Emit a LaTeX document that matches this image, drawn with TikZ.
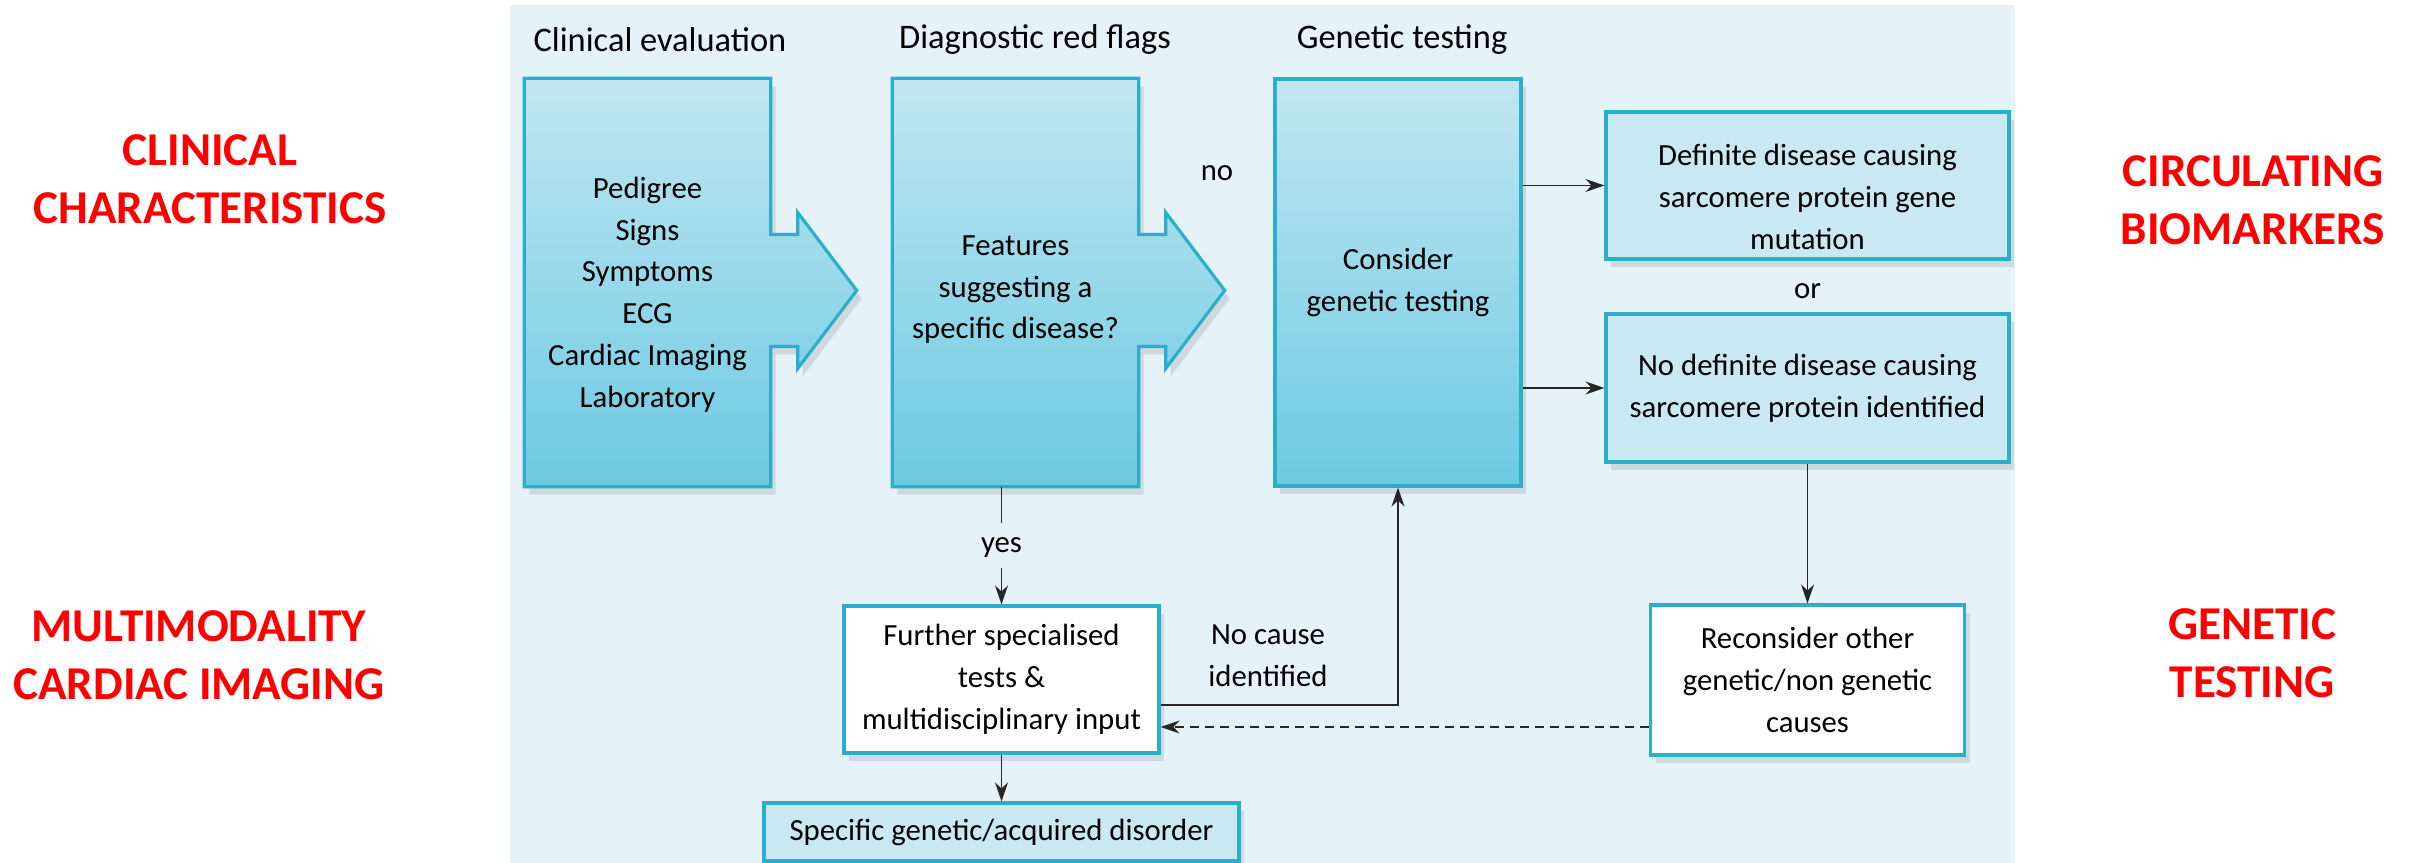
\documentclass[tikz,border=0pt]{standalone}
\usepackage{fontspec}
\setmainfont{Carlito}
\usepackage{tikz}
\usetikzlibrary{positioning,calc,arrows.meta,shadows,backgrounds}

\definecolor{panelblue}{HTML}{E5F3F9}
\definecolor{boxtop}{HTML}{C2E6F1}
\definecolor{boxbot}{HTML}{6CCAE2}
\definecolor{boxline}{HTML}{2AAFCA}
\definecolor{lightbox}{HTML}{C9E8F2}
\definecolor{labelred}{HTML}{FF0000}

\newcommand{\diagfont}{\fontsize{8.75}{11.9}\selectfont}
\newcommand{\hdfont}{\fontsize{9.8}{11}\selectfont}
\newcommand{\redfont}{\fontsize{13.4}{16.6}\selectfont\bfseries}
% invisible strut that pushes a block of lines down in its box
\newcommand{\lowerby}[1]{\rule{0pt}{#1}}

% tall box with an arrow on its right side, drawn round a named node
\newcommand{\arrowbox}[1]{%
  \coordinate (#1arr) at ($(#1.east)+(0,-0.08)$);
  \path[bigbox] (#1.north west) -- (#1.north east) -- (#1.north east |- {$(#1arr)+(0,0.56)$})
    -- ++(0.27,0) -- ++(0,0.22) -- ($(#1arr)+(0.86,0)$) -- ($(#1arr)+(0.27,-0.78)$)
    -- ++(0,0.22) -- ($(#1arr)+(0,-0.56)$) -- (#1.south east) -- (#1.south west) -- cycle;}

\begin{document}
\begin{tikzpicture}[
    >={Stealth[length=1.9mm,width=1.3mm]},
    every node/.style={inner sep=0pt},
    boxshadow/.style={drop shadow={shadow xshift=0.5mm,shadow yshift=-0.8mm,opacity=0.22}},
    bigbox/.style={draw=boxline, line width=0.9pt, top color=boxtop, bottom color=boxbot, boxshadow},
    textbox/.style={minimum width=2.45cm, minimum height=4.07cm, align=center, font=\diagfont},
    flatbox/.style={draw=boxline, line width=0.9pt, fill=lightbox, boxshadow, align=center, font=\diagfont},
    whitebox/.style={draw=boxline, line width=0.9pt, fill=white, boxshadow, align=center, font=\diagfont},
    head/.style={font=\hdfont},
    tag/.style={font=\diagfont, align=center},
    redlabel/.style={font=\redfont, text=labelred, align=center},
    link/.style={line width=0.5pt, black!85}
  ]
  \useasboundingbox (0,0) rectangle (24.10,8.63);

  % Column headers
  \node[head] (hclin) at (6.60,8.23) {Clinical evaluation};
  \node[head] (hflags) at (10.35,8.23) {Diagnostic red flags};
  \node[head] (hgen) at (14.02,8.23) {Genetic testing};

  % Tall boxes
  \node[textbox] (clin) at (6.475,5.805) {\lowerby{0.455cm}Pedigree\\Signs\\Symptoms\\ECG\\Cardiac Imaging\\Laboratory};
  \node[textbox] (flags) at (10.155,5.805) {\lowerby{0.34cm}Features\\suggesting a\\specific disease?};
  \node[bigbox, textbox, minimum width=2.46cm] (gentest) at (13.98,5.805) {Consider\\genetic testing};

  % Test results
  \node[flatbox, minimum width=4.03cm, minimum height=1.47cm] (definite) at (18.075,6.775) {\lowerby{0.437cm}Definite disease causing\\sarcomere protein gene\\mutation};
  \node[tag] (or) at (18.075,5.72) {or};
  \node[flatbox, minimum width=4.03cm, minimum height=1.48cm] (nodef) at (18.075,4.75) {No definite disease causing\\sarcomere protein identified};

  % Lower boxes
  \node[whitebox, minimum width=3.15cm, minimum height=1.47cm] (further) at (10.015,1.835) {Further specialised\\tests \&\\multidisciplinary input};
  \node[whitebox, minimum width=3.14cm, minimum height=1.50cm] (reconsider) at (18.075,1.83) {Reconsider other\\genetic/non genetic\\causes};
  \node[flatbox, minimum width=4.75cm, minimum height=0.58cm] (specific) at (10.015,0.31) {Specific genetic/acquired disorder};

  % Labels on the flow
  \node[tag] (no) at (12.17,6.90) {no};
  \node[tag] (yes) at (10.015,3.15) {yes};
  \node[tag] (nocause) at (12.68,2.07) {No cause\\identified};

  % Connectors
  \draw[link] (flags.south -| yes) -- ([yshift=0.25cm]yes.center);
  \draw[link,->] ([yshift=-0.2cm]yes.center) -- (further.north);
  \draw[link,->] (gentest.east |- definite) -- (definite.west);
  \draw[link,->] (gentest.east |- nodef) -- (nodef.west);
  \draw[link,->] (nodef.south) -- (reconsider.north);
  \draw[link,->] ([yshift=-0.255cm]further.east) -| (gentest.south);
  \draw[link,->,dash pattern=on 0.9mm off 0.6mm] ([yshift=-0.47cm]reconsider.west) -- ([yshift=-0.47cm]reconsider.west -| further.east);
  \draw[link,->] (further.south) -- (specific.north);

  % Red side labels
  \node[redlabel] (clinchar) at (2.10,6.84) {CLINICAL\\CHARACTERISTICS};
  \node[redlabel] (imaging) at (1.99,2.08) {MULTIMODALITY\\CARDIAC IMAGING};
  \node[redlabel] (biomark) at (22.53,6.63) {CIRCULATING\\BIOMARKERS};
  \node[redlabel] (genetic) at (22.52,2.10) {GENETIC\\TESTING};

  % Panel and arrow shapes behind the text
  \begin{pgfonlayer}{background}
    \fill[panelblue] (5.10,0) rectangle (20.15,8.58);
    \arrowbox{clin}
    \arrowbox{flags}
  \end{pgfonlayer}
\end{tikzpicture}
\end{document}
